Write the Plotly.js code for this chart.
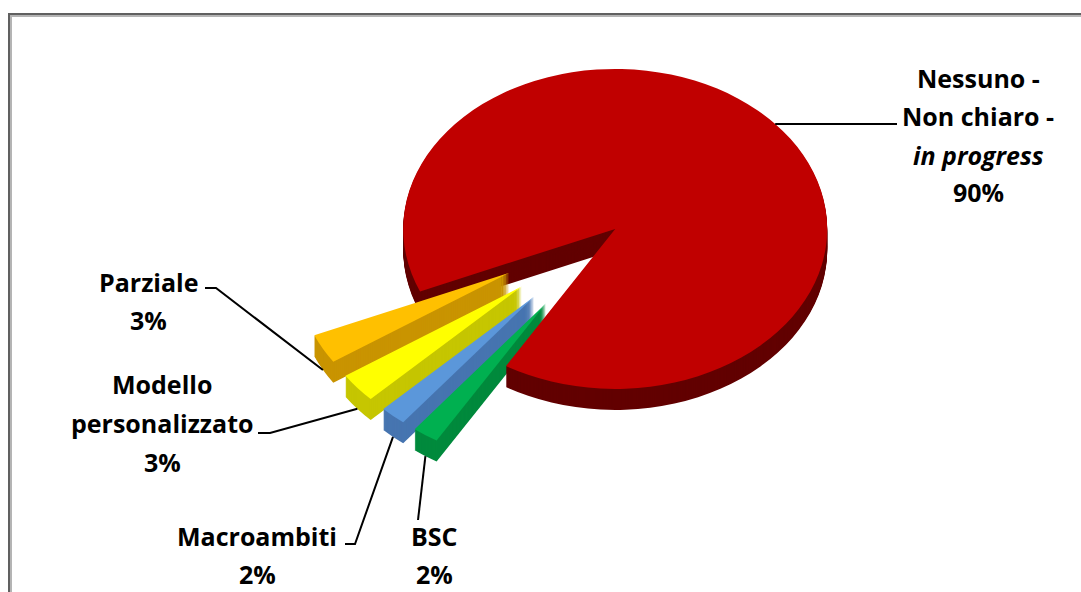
<!DOCTYPE html>
<html>
<head>
<meta charset="utf-8">
<script src="https://cdn.plot.ly/plotly-3.0.1.min.js"></script>
<style>
  html, body { margin: 0; padding: 0; background: #ffffff; }
  #chart { width: 1081px; height: 592px; }
</style>
</head>
<body>
<div id="chart"></div>
<script>
// Slice data, in drawing order (clockwise from the start angle)
const categories = ["Nessuno - Non chiaro - in progress", "BSC", "Macroambiti", "Modello personalizzato", "Parziale"];
const shares = [90, 2, 2, 3, 3];
// Label text lines for each category (the percentage line is appended from shares)
const labelLines = [
  ["Nessuno -", "Non chiaro -", "<i>in progress</i>"],
  ["BSC"],
  ["Macroambiti"],
  ["Modello", "personalizzato"],
  ["Parziale"]
];

// Styling
const topColors  = ["#c00000", "#00b050", "#5b97da", "#ffff00", "#ffc000"];
const sideColors = ["#620000", "#008a3d", "#4775b0", "#c6c600", "#c99400"];
const explode    = [0.02, 0.55, 0.55, 0.55, 0.55];
const START_ANGLE = 247;          // clockwise from 12 o'clock

const W = 1081, H = 592;
const CX = 612, CY = 231;         // centre of the disc on the page
const RX = 212, RY = 160;         // half-axes of the tilted top face
const DEPTH = 21;                 // thickness of the disc
const LAYERS = 21;                // slices stacked to build the side walls

// Label placement: centre of each text line, and where its leader line begins
const labelPos = [
  { x: 978, y: [78, 116, 155, 192], lead: [[897, 124]], front: false },
  { x: 434, y: [536, 574],          lead: [[418, 520]], front: true },
  { x: 257, y: [536, 574],          lead: [[345, 544], [355, 544]], front: true },
  { x: 162, y: [384, 423, 462],     lead: [[258, 433], [270, 433]], front: true },
  { x: 148, y: [282, 320],          lead: [[205, 288], [216, 288]], front: true }
];

const px = p => p / W;
const py = p => 1 - p / H;

// pie domain centred on (CX, CY)
const domW = 0.30, domH = 0.60;
const domain = {
  x: [CX / W - domW / 2, CX / W + domW / 2],
  y: [(1 - CY / H) - domH / 2, (1 - CY / H) + domH / 2]
};

function pieTrace(colors) {
  return {
    type: "pie",
    labels: categories,
    values: shares,
    sort: false,
    direction: "clockwise",
    rotation: START_ANGLE,
    pull: explode,
    textinfo: "none",
    hoverinfo: "none",
    showlegend: false,
    marker: { colors: colors, line: { width: 0 } },
    domain: domain
  };
}

// side walls first (deepest first), then the top face
const traces = [];
const offsets = [];
for (let k = LAYERS; k >= 1; k--) {
  traces.push(pieTrace(sideColors));
  offsets.push(DEPTH * k / LAYERS);
}
traces.push(pieTrace(topColors));
offsets.push(0);

// leader-line anchors from the slice angles
const total = shares.reduce((a, b) => a + b, 0);
const shapes = [];
const annotations = [];
let acc = 0;
shares.forEach((v, i) => {
  const mid = (START_ANGLE + (acc + v / 2) * 360 / total) * Math.PI / 180;
  acc += v;
  const dx = Math.sin(mid), dy = -Math.cos(mid);
  const k = 1 + explode[i];
  const ax = CX + RX * k * dx;
  const ay = CY + RY * k * dy + (labelPos[i].front ? DEPTH : 0);
  const pts = labelPos[i].lead.concat([[ax, ay]]);
  const path = pts.map((p, j) => (j ? "L" : "M") + px(p[0]) + "," + py(p[1])).join(" ");
  shapes.push({
    type: "path", xref: "paper", yref: "paper", path: path,
    line: { color: "#000000", width: 2 }
  });
  const lines = labelLines[i].concat([v + "%"]);
  lines.forEach((t, j) => {
    annotations.push({
      xref: "paper", yref: "paper",
      x: px(labelPos[i].x), y: py(labelPos[i].y[j]),
      xanchor: "center", yanchor: "middle",
      text: "<b>" + t + "</b>",
      showarrow: false,
      font: { family: "Open Sans, Noto Sans, sans-serif", size: 25, color: "#000000" }
    });
  });
});

// chart frame
shapes.push({
  type: "rect", xref: "paper", yref: "paper",
  x0: px(11), y0: py(16), x1: 1.02, y1: -0.02,
  line: { color: "#b4b4b4", width: 2 }
});
shapes.push({
  type: "rect", xref: "paper", yref: "paper",
  x0: px(9), y0: py(14), x1: 1.02, y1: -0.02,
  line: { color: "#606060", width: 2 }
});

const layout = {
  width: W, height: H,
  margin: { l: 0, r: 0, t: 0, b: 0 },
  paper_bgcolor: "#ffffff",
  plot_bgcolor: "#ffffff",
  shapes: shapes,
  annotations: annotations
};

const gd = document.getElementById("chart");
Plotly.newPlot(gd, traces, layout, { staticPlot: true, displayModeBar: false }).then(() => {
  // tilt each pie into an ellipse and drop the side layers below the top face
  const groups = gd.querySelectorAll(".pielayer g.trace");
  groups.forEach((g, i) => {
    const cd0 = gd.calcdata[i][0];
    const sx = RX / cd0.r, sy = RY / cd0.r;
    g.setAttribute("transform",
      "translate(" + cd0.cx + "," + (cd0.cy + offsets[i]) + ") scale(" + sx + "," + sy + ") translate(" + (-cd0.cx) + "," + (-cd0.cy) + ")");
  });
});
</script>
</body>
</html>
